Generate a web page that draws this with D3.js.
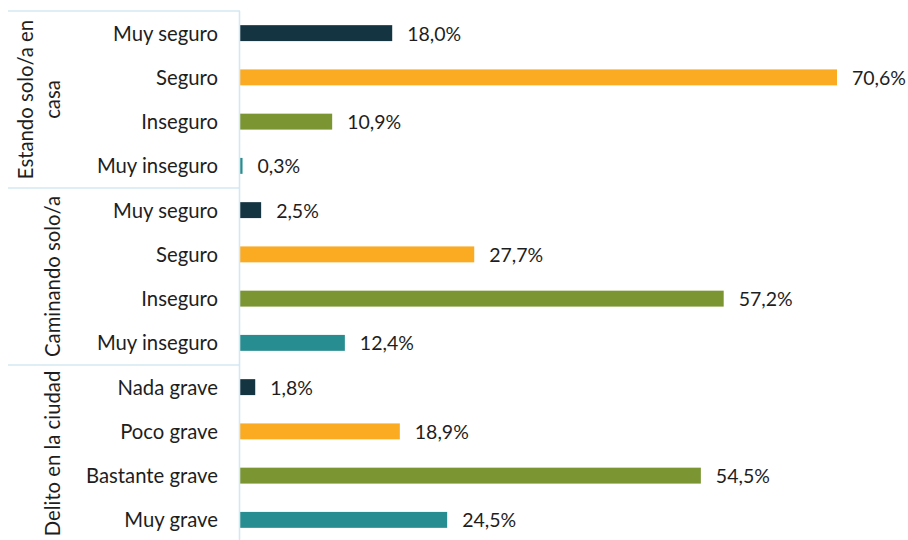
<!DOCTYPE html>
<html>
<head>
<meta charset="utf-8">
<script src="https://cdn.jsdelivr.net/npm/d3@7"></script>
<style>
  html, body { margin: 0; padding: 0; background: #ffffff; }
  svg { display: block; }
  text { font-family: Lato, "Open Sans", sans-serif; fill: #1e1e1e; }
</style>
</head>
<body>
<svg id="chart" width="908" height="540"></svg>
<script>
// Survey groups, shown as vertical labels on the left
const groups = ["Estando solo/a en casa", "Caminando solo/a", "Delito en la ciudad"];
// Response categories for each group
const categories = [
  ["Muy seguro", "Seguro", "Inseguro", "Muy inseguro"],
  ["Muy seguro", "Seguro", "Inseguro", "Muy inseguro"],
  ["Nada grave", "Poco grave", "Bastante grave", "Muy grave"]
];
// Percentages per group, in the same order as the categories
const values = [
  [18.0, 70.6, 10.9, 0.3],
  [2.5, 27.7, 57.2, 12.4],
  [1.8, 18.9, 54.5, 24.5]
];
// Fill by position within a group
const colors = ["#133440", "#FAAB22", "#7A9531", "#288D90"];

const rows = [];
groups.forEach((g, gi) => {
  categories[gi].forEach((c, ci) => {
    rows.push({ key: gi + "|" + ci, group: g, gi, label: c, ci, value: values[gi][ci] });
  });
});

const svg = d3.select("#chart");
const x0 = 240;
const x = d3.scaleLinear().domain([0, 70.6]).range([x0, 837]);
const y = d3.scaleBand()
  .domain(rows.map(r => r.key))
  .range([11, 542])
  .paddingInner(0.64)
  .paddingOuter(0.32);

const lineColor = "#D5E7F1";
const fmt = v => d3.format(".1f")(v).replace(".", ",") + "%";

// Bars
svg.append("g").selectAll("rect")
  .data(rows)
  .join("rect")
  .attr("x", x0)
  .attr("y", r => y(r.key))
  .attr("width", r => x(r.value) - x0)
  .attr("height", y.bandwidth())
  .attr("fill", r => colors[r.ci]);

// Value labels
svg.append("g").selectAll("text")
  .data(rows)
  .join("text")
  .attr("x", r => x(r.value) + 15)
  .attr("y", r => y(r.key) + y.bandwidth() / 2)
  .attr("dominant-baseline", "central")
  .style("font-size", "19.5px")
  .text(r => fmt(r.value));

// Category labels
svg.append("g").selectAll("text")
  .data(rows)
  .join("text")
  .attr("x", 218)
  .attr("y", r => y(r.key) + y.bandwidth() / 2 - 0.5)
  .attr("text-anchor", "end")
  .attr("dominant-baseline", "central")
  .style("font-size", "20.3px")
  .text(r => r.label);

// Group boundaries (top edge of each group) and the vertical axis line
const step = y.step();
const yTop = y.range()[0];
const yBottom = y.range()[1];
const grid = svg.append("g").attr("stroke", lineColor).attr("stroke-width", 1.6);
groups.forEach((g, gi) => {
  const yy = yTop + gi * 4 * step;
  grid.append("line").attr("x1", 8).attr("x2", x0).attr("y1", yy).attr("y2", yy);
});
grid.append("line").attr("x1", x0 - 0.5).attr("x2", x0 - 0.5).attr("y1", yTop).attr("y2", yBottom);

// Rotated group labels (wrapped where needed)
const groupLines = [["Estando solo/a en", "casa"], ["Caminando solo/a"], ["Delito en la ciudad"]];
groups.forEach((g, gi) => {
  const cy = yTop + (gi * 4 + 2) * step;
  const lines = groupLines[gi];
  lines.forEach((ln, li) => {
    const cx = 52 - (lines.length - 1 - li) * 27;
    svg.append("text")
      .attr("transform", `translate(${cx},${cy}) rotate(-90)`)
      .attr("text-anchor", "middle")
      .attr("dominant-baseline", "central")
      .style("font-size", "20.3px")
      .text(ln);
  });
});
</script>
</body>
</html>
